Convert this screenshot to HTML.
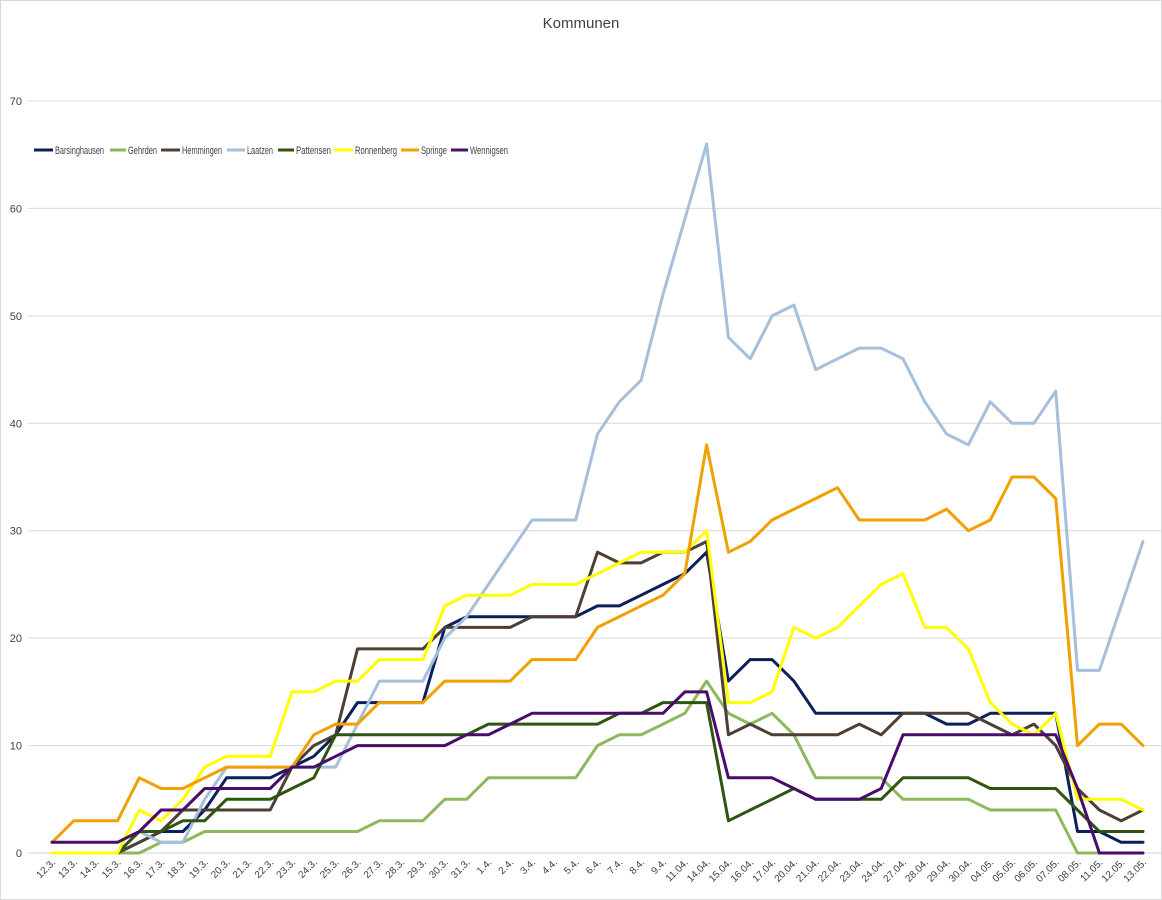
<!DOCTYPE html>
<html><head><meta charset="utf-8"><style>
html,body{margin:0;padding:0;background:#fff}
svg{display:block}
text{font-family:"Liberation Sans",sans-serif;fill:#404040}
</style></head><body>
<svg id="c" width="1162" height="900" viewBox="0 0 1162 900" xmlns="http://www.w3.org/2000/svg">
<rect x="0.5" y="0.5" width="1161" height="899" fill="#fff" stroke="#d9d9d9"/>
<text x="581" y="28" text-anchor="middle" font-size="15" style="fill:#404040">Kommunen</text>
<g id="grid"></g><g id="series"></g><g id="xl"></g><g id="leg"></g>
</svg>
<script>
var N=null;
var labels=["12.3.","13.3.","14.3.","15.3.","16.3.","17.3.","18.3.","19.3.","20.3.","21.3.","22.3.","23.3.","24.3.","25.3.","26.3.","27.3.","28.3.","29.3.","30.3.","31.3.","1.4.","2.4.","3.4.","4.4.","5.4.","6.4.","7.4.","8.4.","9.4.","11.04.","14.04.","15.04.","16.04.","17.04.","20.04.","21.04.","22.04.","23.04.","24.04.","27.04.","28.04.","29.04.","30.04.","04.05.","05.05.","06.05.","07.05.","08.05.","11.05.","12.05.","13.05."];
var S=[
["Barsinghausen","#0b1f5c",[N,N,N,0,1,2,2,4,7,7,7,8,9,11,14,14,14,14,21,22,22,22,22,22,22,23,23,24,25,26,28,16,18,18,16,13,13,13,13,13,13,12,12,13,13,13,13,2,2,1,1]],
["Gehrden","#8db95e",[N,N,N,0,0,1,1,2,2,2,2,2,2,2,2,3,3,3,5,5,7,7,7,7,7,10,11,11,12,13,16,13,12,13,11,7,7,7,7,5,5,5,5,4,4,4,4,0,0,N,N]],
["Hemmingen","#4e3f34",[N,N,N,0,1,2,4,4,4,4,4,8,10,11,19,19,19,19,21,21,21,21,22,22,22,28,27,27,28,28,29,11,12,11,11,11,11,12,11,13,13,13,13,12,11,12,10,6,4,3,4]],
["Laatzen","#a6bfdb",[N,N,N,0,2,1,1,5,8,8,8,8,8,8,12,16,16,16,20,22,25,28,31,31,31,39,42,44,52,59,66,48,46,50,51,45,46,47,47,46,42,39,38,42,40,40,43,17,17,23,29]],
["Pattensen","#2d5611",[N,N,N,0,2,2,3,3,5,5,5,6,7,11,11,11,11,11,11,11,12,12,12,12,12,12,13,13,14,14,14,3,4,5,6,5,5,5,5,7,7,7,7,6,6,6,6,4,2,2,2]],
["Ronnenberg","#ffff00",[0,0,0,0,4,3,5,8,9,9,9,15,15,16,16,18,18,18,23,24,24,24,25,25,25,26,27,28,28,28,30,14,14,15,21,20,21,23,25,26,21,21,19,14,12,11,13,5,5,5,4]],
["Springe","#f0a000",[1,3,3,3,7,6,6,7,8,8,8,8,11,12,12,14,14,14,16,16,16,16,18,18,18,21,22,23,24,26,38,28,29,31,32,33,34,31,31,31,31,32,30,31,35,35,33,10,12,12,10]],
["Wennigsen","#4a0c6b",[1,1,1,1,2,4,4,6,6,6,6,8,8,9,10,10,10,10,10,11,11,12,13,13,13,13,13,13,13,15,15,7,7,7,6,5,5,5,6,11,11,11,11,11,11,11,11,6,0,0,0]]
];
function X(i){return 52+i*21.82}
function Y(v){return 853-v*10.743}
var ns="http://www.w3.org/2000/svg";
function el(t,a,p,txt){var e=document.createElementNS(ns,t);for(var k in a)e.setAttribute(k,a[k]);if(txt!=null)e.textContent=txt;document.getElementById(p).appendChild(e);return e}
for(var k=0;k<=7;k++){var y=Y(k*10);el("line",{x1:28,x2:1162,y1:y,y2:y,stroke:k==0?"#d0d0d0":"#d9d9d9","stroke-width":1},"grid");
el("text",{x:22,y:y+4,"text-anchor":"end","font-size":"11"},"grid",String(k*10));}
labels.forEach(function(l,i){var x=X(i)+4,y=863;el("text",{x:x,y:y,"text-anchor":"end","font-size":"10",transform:"rotate(-45 "+x+" "+y+")"},"xl",l)});
S.forEach(function(s){var pts=[];s[2].forEach(function(v,i){if(v!==null)pts.push(X(i).toFixed(1)+","+Y(v).toFixed(1))});
el("polyline",{points:pts.join(" "),fill:"none",stroke:s[1],"stroke-width":3,"stroke-linejoin":"round","stroke-linecap":"round"},"series")});
var L=[[34,55,49],[110,128,29],[161,182,40],[227,247,26],[278,296,35],[334,355,42],[401,421,26],[451,470,38]];
S.forEach(function(s,i){var p=L[i];el("line",{x1:p[0],x2:p[1]-2,y1:150,y2:150,stroke:s[1],"stroke-width":3},"leg");
el("text",{x:p[1],y:154,"font-size":"11",textLength:p[2],lengthAdjust:"spacingAndGlyphs"},"leg",s[0])});
</script>
</body></html>
